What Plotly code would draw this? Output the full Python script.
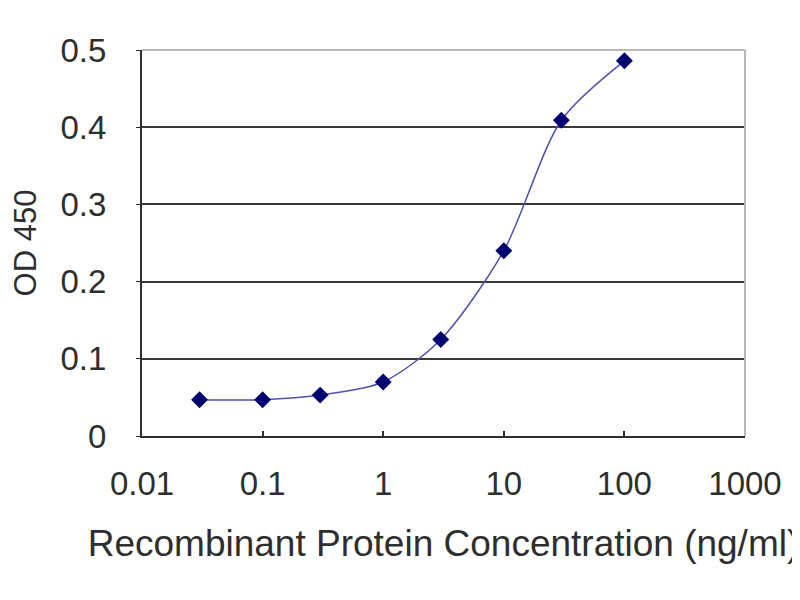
import plotly.graph_objects as go

# ELISA standard curve
conc = [0.03, 0.1, 0.3, 1, 3, 10, 30, 100]
od450 = [0.047, 0.047, 0.053, 0.070, 0.125, 0.240, 0.409, 0.486]

x_ticks = [0.01, 0.1, 1, 10, 100, 1000]
x_ticktext = ["0.01", "0.1", "1", "10", "100", "1000"]
y_ticks = [0, 0.1, 0.2, 0.3, 0.4, 0.5]
y_ticktext = ["0", "0.1", "0.2", "0.3", "0.4", "0.5"]

font_main = "Liberation Sans, Arial, sans-serif"
txt = "#2e2e2e"

fig = go.Figure()
fig.add_trace(go.Scatter(
    x=conc, y=od450,
    mode="lines+markers",
    line=dict(color="#5050b0", width=1.5, shape="spline", smoothing=0.8),
    marker=dict(symbol="diamond", size=13, color="#000070"),
    showlegend=False,
))

# light grey top/right frame like the original
fig.add_shape(type="line", xref="paper", yref="paper", x0=0, x1=1, y0=1, y1=1,
              line=dict(color="#b8b8b8", width=2), layer="above")
fig.add_shape(type="line", xref="paper", yref="paper", x0=1, x1=1, y0=0, y1=1,
              line=dict(color="#b8b8b8", width=2), layer="above")

fig.update_layout(
    width=800, height=600,
    margin=dict(l=134, r=63, t=42, b=172),
    plot_bgcolor="white", paper_bgcolor="white",
    font=dict(family=font_main, size=32, color=txt),
    xaxis=dict(
        type="log", range=[-2, 3],
        tickvals=x_ticks, ticktext=x_ticktext,
        showgrid=False, zeroline=False, automargin=False,
        showline=True, linecolor=txt, linewidth=2,
        ticks="inside", ticklen=5, tickcolor=txt, tickwidth=2,
        ticklabelstandoff=17,
        tickfont=dict(size=33, color=txt),
        title=dict(text="Recombinant Protein Concentration (ng/ml)",
                   font=dict(size=37, color=txt), standoff=30),
    ),
    yaxis=dict(
        range=[0, 0.5],
        tickvals=y_ticks, ticktext=y_ticktext,
        showgrid=True, gridcolor="#3a3a3a", gridwidth=2,
        zeroline=False, automargin=False,
        showline=True, linecolor=txt, linewidth=2,
        ticks="outside", ticklen=4, tickcolor=txt, tickwidth=1,
        ticklabelstandoff=23,
        tickfont=dict(size=33, color=txt),
        title=dict(text="OD 450", font=dict(size=31, color=txt), standoff=36),
    ),
)

fig.write_html("out.html")
